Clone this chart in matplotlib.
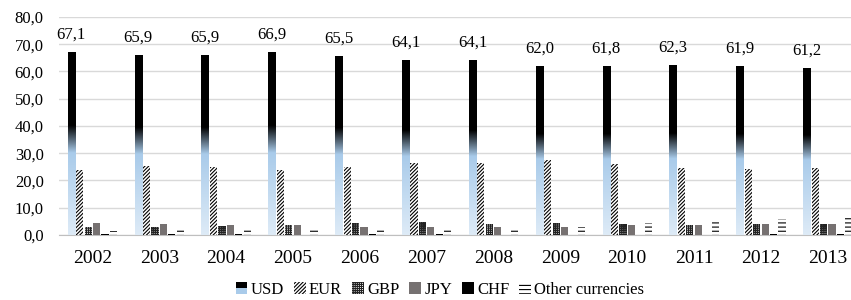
import numpy as np
import matplotlib
matplotlib.use('Agg')
import matplotlib.pyplot as plt
from matplotlib.colors import LinearSegmentedColormap
from matplotlib.patches import Rectangle
from matplotlib.legend_handler import HandlerBase

plt.rcParams['font.family'] = ['Liberation Serif', 'DejaVu Serif']
plt.rcParams['hatch.linewidth'] = 0.8

years = ['2002', '2003', '2004', '2005', '2006', '2007', '2008', '2009', '2010', '2011', '2012', '2013']
usd = [67.1, 65.9, 65.9, 66.9, 65.5, 64.1, 64.1, 62.0, 61.8, 62.3, 61.9, 61.2]
eur = [23.8, 25.2, 24.8, 24.0, 25.1, 26.3, 26.4, 27.6, 26.0, 24.7, 24.1, 24.5]
gbp = [2.8, 2.8, 3.4, 3.6, 4.4, 4.7, 4.0, 4.3, 3.9, 3.8, 4.0, 4.0]
jpy = [4.4, 3.9, 3.8, 3.6, 3.1, 2.9, 3.1, 2.9, 3.7, 3.6, 4.1, 3.9]
chf = [0.4, 0.2, 0.2, 0.1, 0.2, 0.2, 0.1, 0.1, 0.1, 0.1, 0.2, 0.3]
other = [1.4, 1.9, 1.8, 1.7, 1.7, 1.8, 2.2, 3.1, 4.4, 5.5, 5.7, 6.2]

fig = plt.figure(figsize=(8.51, 3.0), dpi=100)
# plot area runs past the right edge, like the cropped original
ax = fig.add_axes([0.0693, 0.2167, 0.9427, 0.7267])

x = np.arange(len(years))
pitch = 0.126
w = 0.108

# USD gradient: light blue at bottom, black from ~40 up
cmap = LinearSegmentedColormap.from_list('usd', [(0, '#deebf7'), (0.45, '#a9cbea'),
                                                 (0.6, '#000000'), (1, '#000000')])
grad = np.linspace(0, 1, 256).reshape(-1, 1)
for i, v in enumerate(usd):
    xc = x[i] - 2.5 * pitch
    ax.imshow(grad, extent=[xc - w / 2, xc + w / 2, 0, v], origin='lower',
              aspect='auto', cmap=cmap, zorder=3)
    ax.annotate(f'{v:.1f}'.replace('.', ','), (xc, v), xytext=(0, 7),
                textcoords='offset points', ha='center', va='bottom', fontsize=12)

ax.bar(x - 1.5 * pitch, eur, w, color='white', edgecolor='black', hatch='/////////',
       linewidth=0, zorder=3)
ax.bar(x - 0.5 * pitch, gbp, w, color='white', edgecolor='#222222', hatch='++++++++',
       linewidth=0, zorder=3)
ax.bar(x + 0.5 * pitch, jpy, w, color='#767171', zorder=3)
ax.bar(x + 1.5 * pitch, chf, w, color='black', zorder=3)
ax.bar(x + 2.5 * pitch, other, w, color='white', edgecolor='black', hatch='----',
       linewidth=0, zorder=3)

ax.set_xlim(-0.5, len(years) - 0.5)
ax.set_ylim(0, 80)
ax.set_yticks(np.arange(0, 81, 10))
ax.set_yticklabels([f'{t:.1f}'.replace('.', ',') for t in np.arange(0, 81, 10)], fontsize=12)
ax.set_xticks(x)
ax.set_xticklabels(years, fontsize=14)
ax.tick_params(axis='x', length=0, pad=11)
ax.tick_params(axis='y', length=0, pad=11)
ax.grid(axis='y', color='#d9d9d9', linewidth=1, zorder=0)
ax.set_axisbelow(True)
for s in ['top', 'right', 'left']:
    ax.spines[s].set_visible(False)
ax.spines['bottom'].set_color('#bfbfbf')


class GradHandler(HandlerBase):
    def create_artists(self, legend, orig, xd, yd, width, height, fontsize, trans):
        s = min(width, height)
        x0 = xd + (width - s) / 2
        y0 = yd + (height - s) / 2
        top = Rectangle((x0, y0 + s / 2), s, s / 2, facecolor='black', transform=trans)
        bot = Rectangle((x0, y0), s, s / 2, facecolor='#a9cbea', transform=trans)
        return [bot, top]


handles = [Rectangle((0, 0), 1, 1),
           Rectangle((0, 0), 1, 1, facecolor='white', edgecolor='black', hatch='/////////', linewidth=0),
           Rectangle((0, 0), 1, 1, facecolor='white', edgecolor='#222222', hatch='++++++++', linewidth=0),
           Rectangle((0, 0), 1, 1, facecolor='#767171'),
           Rectangle((0, 0), 1, 1, facecolor='black'),
           Rectangle((0, 0), 1, 1, facecolor='white', edgecolor='black', hatch='----', linewidth=0)]
labels = ['USD', 'EUR', 'GBP', 'JPY', 'CHF', 'Other currencies']
fig.legend(handles, labels, loc='center', bbox_to_anchor=(0.517, 0.033), ncol=6,
           frameon=False, fontsize=12, handlelength=0.7, handleheight=0.7,
           handletextpad=0.2, columnspacing=0.6, borderpad=0.1,
           handler_map={handles[0]: GradHandler()})

fig.savefig('out.png', dpi=100)
